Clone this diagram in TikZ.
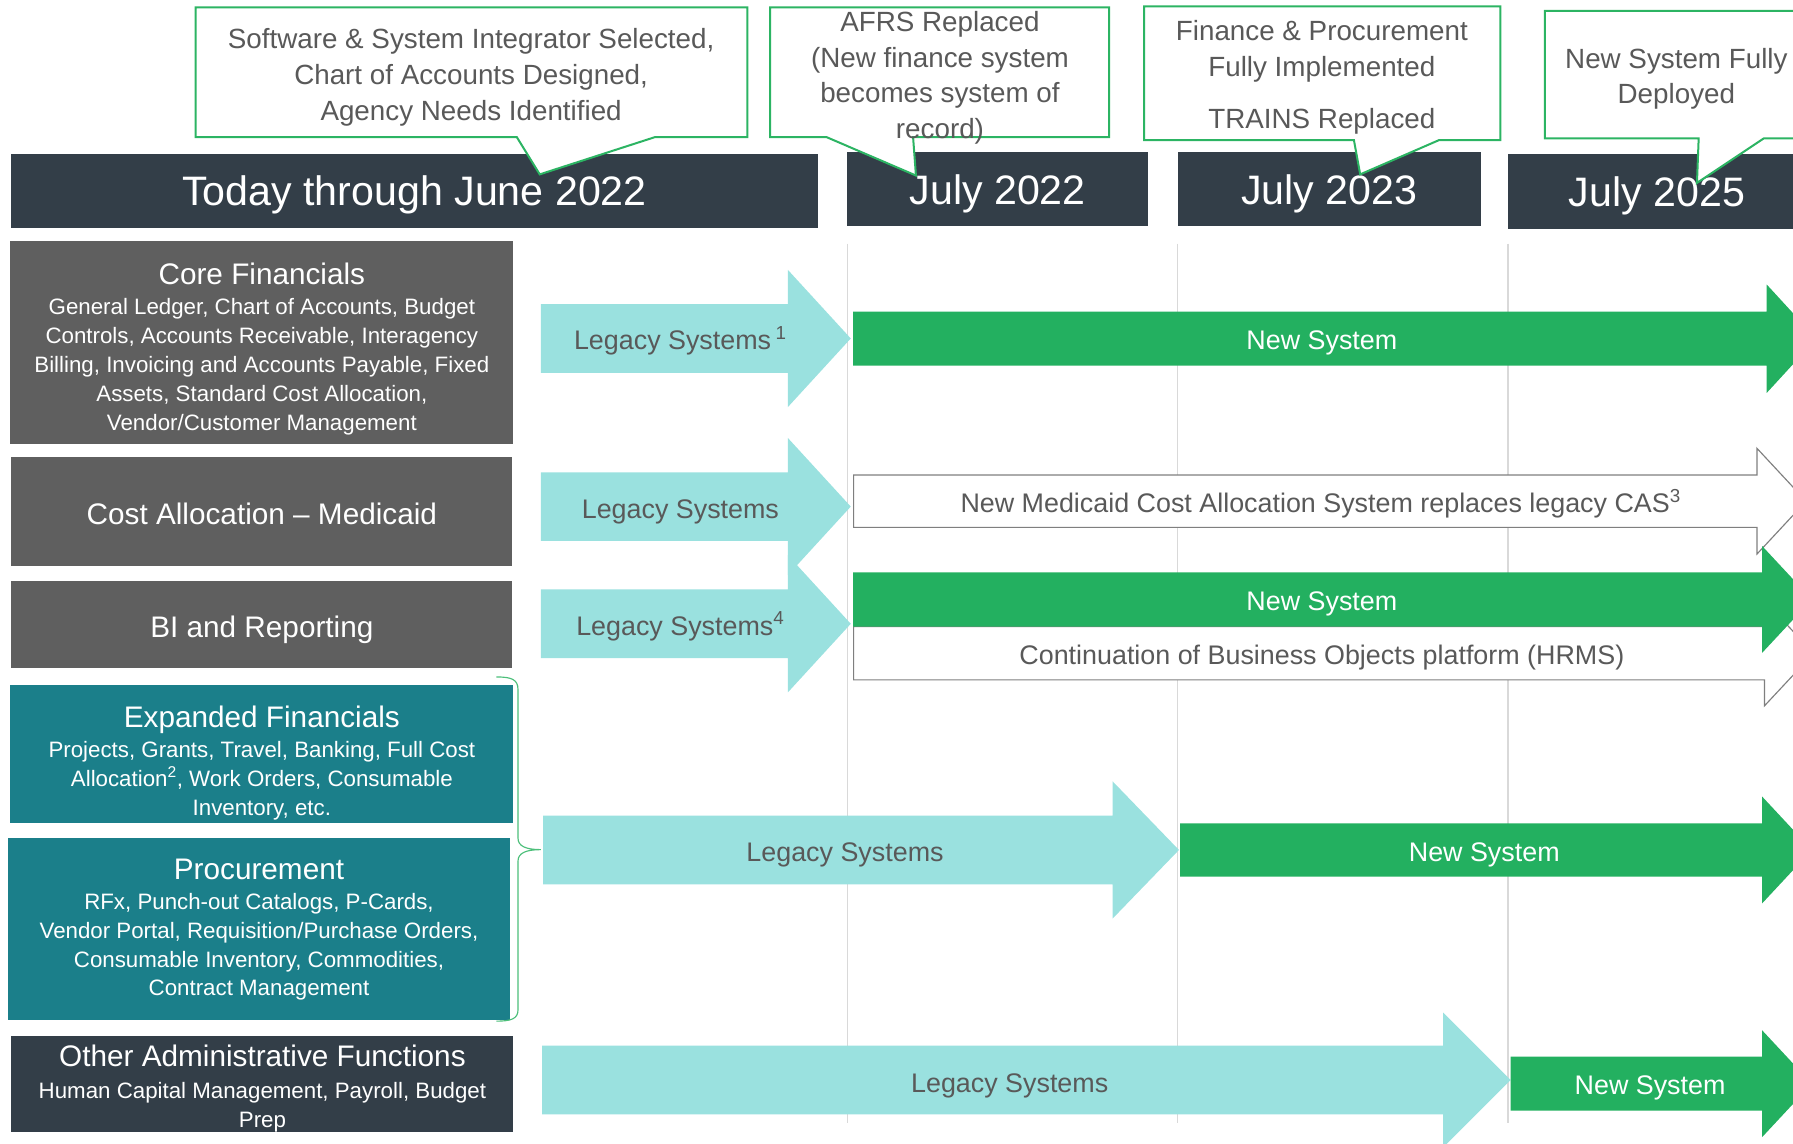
\documentclass[tikz,border=0pt]{standalone}
\usepackage{fontspec}
\setmainfont{Liberation Sans}
\definecolor{hdrdark}{HTML}{333E48}
\definecolor{boxgray}{HTML}{5F5F5F}
\definecolor{boxteal}{HTML}{1B7F8A}
\definecolor{legacycyan}{HTML}{9AE1DF}
\definecolor{newgreen}{HTML}{23B060}
\definecolor{callgreen}{HTML}{2CB463}
\definecolor{txtgray}{HTML}{595959}
\definecolor{linegray}{HTML}{7F7F7F}
\definecolor{gridgray}{HTML}{D9D9D9}
% block arrow: style, x left, x head, x tip, y centre, half body, half head
\newcommand{\blockarrow}[7]{\path[#1] (#2,#5-#6) -- (#3,#5-#6) -- (#3,#5-#7) -- (#4,#5) -- (#3,#5+#7) -- (#3,#5+#6) -- (#2,#5+#6) -- cycle;}
\begin{document}
\begin{tikzpicture}[x=1pt,y=-1pt,
	hdr/.style={fill=hdrdark,text=white,inner sep=0pt,minimum height=65pt,text height=26pt,text depth=0pt,font=\fontsize{36}{40}\selectfont},
	callout/.style={fill=white,draw=callgreen,line width=1.75pt},
	calltext/.style={text=txtgray,align=center,font=\fontsize{24.3}{31.2}\selectfont},
	catgray/.style={fill=boxgray,inner sep=0pt},
	catteal/.style={fill=boxteal,inner sep=0pt},
	catdark/.style={fill=hdrdark,inner sep=0pt},
	cattitle/.style={text=white,text height=18.7pt,text depth=0pt,font=\fontsize{26}{30}\selectfont},
	catbody/.style={text=white,align=center,font=\fontsize{19.5}{25.3}\selectfont},
	legacy/.style={fill=legacycyan},
	newsys/.style={fill=newgreen},
	plainsys/.style={fill=white,draw=linegray,line width=1pt},
	legtext/.style={text=txtgray,text height=17pt,text depth=0pt,font=\fontsize{23.5}{28}\selectfont},
	newtext/.style={text=white,text height=17pt,text depth=0pt,font=\fontsize{23.5}{28}\selectfont},
	gridline/.style={draw=gridgray,line width=1pt}]
	\useasboundingbox (0,0) rectangle (1568,1000);
	\clip (0,0) rectangle (1568,1000);

	\node[hdr,minimum width=705pt] (today) at (362.5,167) {Today through June 2022};
	\node[hdr,minimum width=263pt] (jul22) at (872.5,165.5) {July 2022};
	\node[hdr,minimum width=265pt] (jul23) at (1162.5,165.5) {July 2023};
	\node[hdr,minimum width=260pt] (jul25) at (1449,167.5) {July 2025};

	\filldraw[callout] (171,6.5) -- (653.5,6.5) -- (653.5,120) -- (572.5,120) -- (472,152.5) -- (452,120) -- (171,120) -- cycle;
	\node[calltext] (callsoft) at (412,67.5) {Software \& System Integrator Selected,\\Chart of Accounts Designed,\\Agency Needs Identified};
	\filldraw[callout] (673.5,6.5) -- (970,6.5) -- (970,120) -- (798.5,120) -- (801,153.5) -- (723,120) -- (673.5,120) -- cycle;
	\node[calltext] (callafrs) at (822,68) {AFRS Replaced\\(New finance system\\becomes system of\\record)};
	\filldraw[callout] (1000.5,5.5) -- (1312,5.5) -- (1312,122.5) -- (1258.5,122.5) -- (1189.5,152.5) -- (1184,122.5) -- (1000.5,122.5) -- cycle;
	\node[calltext] (calltrains) at (1156,67.5) {Finance \& Procurement\\Fully Implemented\\[14pt]TRAINS Replaced};
	\filldraw[callout] (1351,9.5) -- (1590,9.5) -- (1590,121) -- (1542.5,121) -- (1484,160) -- (1485.5,121) -- (1351,121) -- cycle;
	\node[calltext] (calldeploy) at (1466,69) {New System Fully\\Deployed};

	\foreach \hd in {jul22,jul23,jul25}
		\draw[gridline] (\hd.south west |- 0,213) -- (\hd.south west |- 0,982);

	\node[catgray,minimum width=440pt,minimum height=177pt] (core) at (229,299.5) {};
	\node[cattitle] (coretitle) at (229,239.5) {Core Financials};
	\node[catbody] (corebody) at (229,320.5) {General Ledger, Chart of Accounts, Budget\\Controls, Accounts Receivable, Interagency\\Billing, Invoicing and Accounts Payable, Fixed\\Assets, Standard Cost Allocation,\\Vendor/Customer Management};
	\node[catgray,minimum width=438pt,minimum height=95pt] (medicaid) at (229,447.5) {};
	\node[cattitle] (medicaidtitle) at (229,449) {Cost Allocation -- Medicaid};
	\node[catgray,minimum width=438pt,minimum height=76pt] (bi) at (229,546) {};
	\node[cattitle] (bititle) at (229,548) {BI and Reporting};
	\node[catteal,minimum width=440pt,minimum height=121pt] (expanded) at (229,659.5) {};
	\node[cattitle] (expandedtitle) at (229,626.5) {Expanded Financials};
	\node[catbody] (expandedbody) at (229,682.5) {Projects, Grants, Travel, Banking, Full Cost\\Allocation\textsuperscript{2}, Work Orders, Consumable\\Inventory, etc.};
	\node[catteal,minimum width=439pt,minimum height=159pt] (procure) at (226.5,812.5) {};
	\node[cattitle] (procuretitle) at (226.5,759.5) {Procurement};
	\node[catbody] (procurebody) at (226.5,828) {RFx, Punch-out Catalogs, P-Cards,\\Vendor Portal, Requisition/Purchase Orders,\\Consumable Inventory, Commodities,\\Contract Management};
	\node[catdark,minimum width=439pt,minimum height=84pt] (otheradmin) at (229.5,948) {};
	\node[cattitle] (otheradmintitle) at (229.5,923) {Other Administrative Functions};
	\node[catbody] (otheradminbody) at (229.5,968) {Human Capital Management, Payroll, Budget\\Prep};

	\coordinate (bracetop) at (434,592);
	\coordinate (bracetip) at (473,743);
	\coordinate (bracebot) at (434,893);
	\draw[callgreen!85,line width=1pt] (bracetop) .. controls (447,592) and (453,594) .. (453,603) -- (453,733) .. controls (453,740) and (460,743) .. (bracetip) .. controls (460,743) and (453,746) .. (453,753) -- (453,883) .. controls (453,891) and (447,893) .. (bracebot);

	\blockarrow{legacy}{473}{689}{744}{296}{30}{60}
	\blockarrow{legacy}{473}{689}{744}{443}{30}{60}
	\blockarrow{legacy}{473}{689}{744}{545.5}{30}{60}
	\blockarrow{legacy}{475}{973}{1031}{743.3}{30}{60}
	\blockarrow{legacy}{474}{1262}{1321}{944.5}{30}{59}

	\blockarrow{plainsys}{746.5}{1536.5}{1579.5}{438.3}{22.9}{46.2}
	\blockarrow{plainsys}{746.5}{1543}{1586}{571.3}{23.3}{46}
	\blockarrow{newsys}{746}{1545}{1588.5}{296.2}{23.6}{47.4}
	\blockarrow{newsys}{746}{1541}{1584.5}{524.2}{23.7}{46.7}
	\blockarrow{newsys}{1032}{1541}{1584.5}{743.3}{23.3}{46.7}
	\blockarrow{newsys}{1321}{1541}{1584.5}{947.7}{23.6}{46.7}

	\node[legtext] (corelegacy) at (595,297) {Legacy Systems\,\textsuperscript{1}};
	\node[legtext] (medicaidlegacy) at (595,445) {Legacy Systems};
	\node[legtext] (bilegacy) at (595,547) {Legacy Systems\textsuperscript{4}};
	\node[legtext] (expandedlegacy) at (739,745) {Legacy Systems};
	\node[legtext] (otherlegacy) at (883,947) {Legacy Systems};
	\node[newtext] (corenew) at (1156,297) {New System};
	\node[legtext] (medicaidnew) at (1155,440) {New Medicaid Cost Allocation System replaces legacy CAS\textsuperscript{3}};
	\node[newtext] (binew) at (1156,525) {New System};
	\node[legtext] (bihrms) at (1156,573) {Continuation of Business Objects platform (HRMS)};
	\node[newtext] (expandednew) at (1298,745) {New System};
	\node[newtext] (othernew) at (1443,949) {New System};
\end{tikzpicture}
\end{document}
